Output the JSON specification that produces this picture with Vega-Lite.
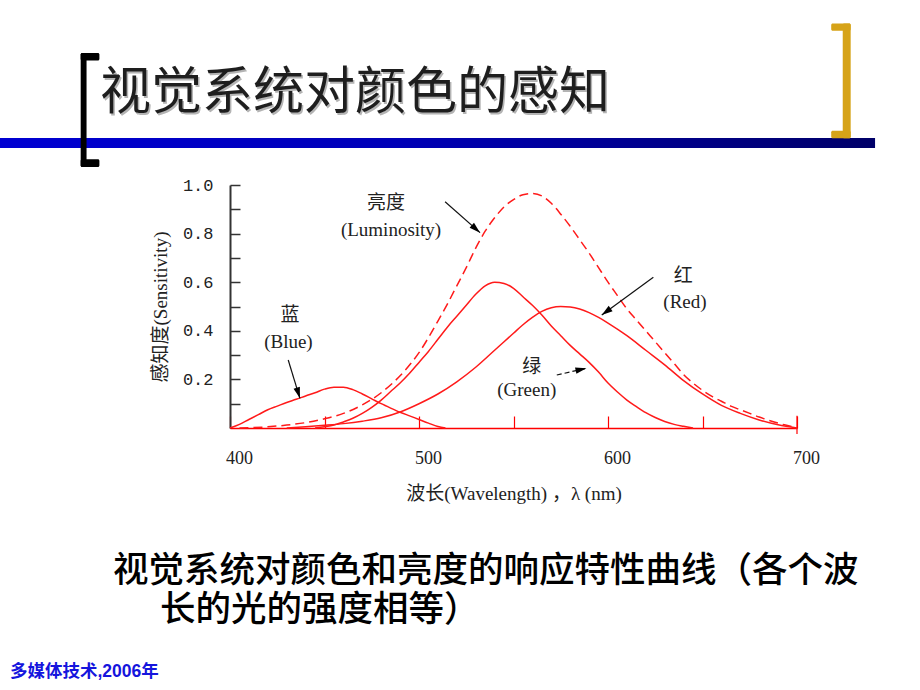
{
  "$schema": "https://vega.github.io/schema/vega-lite/v6.json",
  "width": 567,
  "height": 243,
  "autosize": {"type": "none"},
  "padding": {"left": 230, "top": 185, "right": 123, "bottom": 262},
  "background": "white",
  "config": {"view": {"stroke": null}},
  "datasets": {
    "curves": [
      {"s": "蓝", "x": 400, "y": 0}, {"s": "蓝", "x": 405, "y": 0.015}, {"s": "蓝", "x": 410, "y": 0.035}, {"s": "蓝", "x": 415, "y": 0.055},
      {"s": "蓝", "x": 420, "y": 0.075}, {"s": "蓝", "x": 425, "y": 0.09}, {"s": "蓝", "x": 430, "y": 0.105}, {"s": "蓝", "x": 435, "y": 0.118},
      {"s": "蓝", "x": 440, "y": 0.132}, {"s": "蓝", "x": 445, "y": 0.145}, {"s": "蓝", "x": 450, "y": 0.16}, {"s": "蓝", "x": 455, "y": 0.168},
      {"s": "蓝", "x": 460, "y": 0.168}, {"s": "蓝", "x": 465, "y": 0.158}, {"s": "蓝", "x": 470, "y": 0.14}, {"s": "蓝", "x": 475, "y": 0.12},
      {"s": "蓝", "x": 480, "y": 0.1}, {"s": "蓝", "x": 485, "y": 0.082}, {"s": "蓝", "x": 490, "y": 0.065}, {"s": "蓝", "x": 495, "y": 0.05},
      {"s": "蓝", "x": 500, "y": 0.035}, {"s": "蓝", "x": 505, "y": 0.02}, {"s": "蓝", "x": 510, "y": 0.006}, {"s": "蓝", "x": 514, "y": 0},
      {"s": "绿", "x": 445, "y": 0}, {"s": "绿", "x": 450, "y": 0.005}, {"s": "绿", "x": 455, "y": 0.012}, {"s": "绿", "x": 460, "y": 0.025},
      {"s": "绿", "x": 465, "y": 0.04}, {"s": "绿", "x": 470, "y": 0.06}, {"s": "绿", "x": 475, "y": 0.085}, {"s": "绿", "x": 480, "y": 0.115},
      {"s": "绿", "x": 485, "y": 0.15}, {"s": "绿", "x": 490, "y": 0.185}, {"s": "绿", "x": 495, "y": 0.225}, {"s": "绿", "x": 500, "y": 0.27},
      {"s": "绿", "x": 505, "y": 0.315}, {"s": "绿", "x": 510, "y": 0.365}, {"s": "绿", "x": 515, "y": 0.415}, {"s": "绿", "x": 520, "y": 0.46},
      {"s": "绿", "x": 525, "y": 0.505}, {"s": "绿", "x": 530, "y": 0.55}, {"s": "绿", "x": 535, "y": 0.585}, {"s": "绿", "x": 540, "y": 0.6},
      {"s": "绿", "x": 545, "y": 0.595}, {"s": "绿", "x": 550, "y": 0.575}, {"s": "绿", "x": 555, "y": 0.54}, {"s": "绿", "x": 560, "y": 0.505},
      {"s": "绿", "x": 565, "y": 0.465}, {"s": "绿", "x": 570, "y": 0.42}, {"s": "绿", "x": 575, "y": 0.38}, {"s": "绿", "x": 580, "y": 0.34},
      {"s": "绿", "x": 585, "y": 0.305}, {"s": "绿", "x": 590, "y": 0.27}, {"s": "绿", "x": 595, "y": 0.23}, {"s": "绿", "x": 600, "y": 0.185},
      {"s": "绿", "x": 605, "y": 0.148}, {"s": "绿", "x": 610, "y": 0.115}, {"s": "绿", "x": 615, "y": 0.088}, {"s": "绿", "x": 620, "y": 0.063},
      {"s": "绿", "x": 625, "y": 0.043}, {"s": "绿", "x": 630, "y": 0.027}, {"s": "绿", "x": 635, "y": 0.015}, {"s": "绿", "x": 640, "y": 0.007},
      {"s": "绿", "x": 645, "y": 0},
      {"s": "红", "x": 430, "y": 0}, {"s": "红", "x": 440, "y": 0.005}, {"s": "红", "x": 450, "y": 0.011}, {"s": "红", "x": 460, "y": 0.018},
      {"s": "红", "x": 470, "y": 0.028}, {"s": "红", "x": 480, "y": 0.042}, {"s": "红", "x": 490, "y": 0.066}, {"s": "红", "x": 500, "y": 0.1},
      {"s": "红", "x": 510, "y": 0.14}, {"s": "红", "x": 520, "y": 0.19}, {"s": "红", "x": 530, "y": 0.25}, {"s": "红", "x": 540, "y": 0.32},
      {"s": "红", "x": 545, "y": 0.355}, {"s": "红", "x": 550, "y": 0.39}, {"s": "红", "x": 555, "y": 0.425}, {"s": "红", "x": 560, "y": 0.455},
      {"s": "红", "x": 565, "y": 0.48}, {"s": "红", "x": 570, "y": 0.495}, {"s": "红", "x": 575, "y": 0.5}, {"s": "红", "x": 580, "y": 0.498},
      {"s": "红", "x": 585, "y": 0.49}, {"s": "红", "x": 590, "y": 0.475}, {"s": "红", "x": 595, "y": 0.455}, {"s": "红", "x": 600, "y": 0.432},
      {"s": "红", "x": 610, "y": 0.38}, {"s": "红", "x": 620, "y": 0.32}, {"s": "红", "x": 630, "y": 0.26}, {"s": "红", "x": 640, "y": 0.195},
      {"s": "红", "x": 650, "y": 0.14}, {"s": "红", "x": 660, "y": 0.093}, {"s": "红", "x": 670, "y": 0.06}, {"s": "红", "x": 680, "y": 0.033},
      {"s": "红", "x": 690, "y": 0.013}, {"s": "红", "x": 700, "y": 0},
      {"s": "亮度", "x": 405, "y": 0}, {"s": "亮度", "x": 420, "y": 0.005}, {"s": "亮度", "x": 430, "y": 0.012}, {"s": "亮度", "x": 440, "y": 0.022},
      {"s": "亮度", "x": 450, "y": 0.038}, {"s": "亮度", "x": 460, "y": 0.06}, {"s": "亮度", "x": 470, "y": 0.095}, {"s": "亮度", "x": 480, "y": 0.145},
      {"s": "亮度", "x": 490, "y": 0.215}, {"s": "亮度", "x": 500, "y": 0.31}, {"s": "亮度", "x": 510, "y": 0.44}, {"s": "亮度", "x": 515, "y": 0.51},
      {"s": "亮度", "x": 520, "y": 0.585}, {"s": "亮度", "x": 525, "y": 0.66}, {"s": "亮度", "x": 530, "y": 0.74}, {"s": "亮度", "x": 535, "y": 0.81},
      {"s": "亮度", "x": 540, "y": 0.865}, {"s": "亮度", "x": 545, "y": 0.91}, {"s": "亮度", "x": 550, "y": 0.94}, {"s": "亮度", "x": 555, "y": 0.96},
      {"s": "亮度", "x": 560, "y": 0.965}, {"s": "亮度", "x": 565, "y": 0.955}, {"s": "亮度", "x": 570, "y": 0.925}, {"s": "亮度", "x": 575, "y": 0.88},
      {"s": "亮度", "x": 580, "y": 0.83}, {"s": "亮度", "x": 585, "y": 0.775}, {"s": "亮度", "x": 590, "y": 0.72}, {"s": "亮度", "x": 595, "y": 0.66},
      {"s": "亮度", "x": 600, "y": 0.6}, {"s": "亮度", "x": 605, "y": 0.545}, {"s": "亮度", "x": 610, "y": 0.49}, {"s": "亮度", "x": 615, "y": 0.445},
      {"s": "亮度", "x": 620, "y": 0.4}, {"s": "亮度", "x": 625, "y": 0.355}, {"s": "亮度", "x": 630, "y": 0.31}, {"s": "亮度", "x": 635, "y": 0.265},
      {"s": "亮度", "x": 640, "y": 0.22}, {"s": "亮度", "x": 645, "y": 0.185}, {"s": "亮度", "x": 650, "y": 0.155}, {"s": "亮度", "x": 655, "y": 0.13},
      {"s": "亮度", "x": 660, "y": 0.11}, {"s": "亮度", "x": 665, "y": 0.09}, {"s": "亮度", "x": 670, "y": 0.075}, {"s": "亮度", "x": 675, "y": 0.06},
      {"s": "亮度", "x": 680, "y": 0.045}, {"s": "亮度", "x": 685, "y": 0.032}, {"s": "亮度", "x": 690, "y": 0.02}, {"s": "亮度", "x": 695, "y": 0.01},
      {"s": "亮度", "x": 700, "y": 0}
    ],
    "arrows": [
      {"a": "亮度", "x": 513.8, "y": 0.931, "x2": 532.3, "y2": 0.804},
      {"a": "蓝", "x": 430.8, "y": 0.28, "x2": 437, "y2": 0.122},
      {"a": "红", "x": 624, "y": 0.62, "x2": 596.7, "y2": 0.465},
      {"a": "绿", "x": 572.9, "y": 0.218, "x2": 588.6, "y2": 0.246}
    ],
    "heads": [
      {"a": "亮度", "x": 532.3, "y": 0.804},
      {"a": "蓝", "x": 437, "y": 0.122},
      {"a": "红", "x": 596.7, "y": 0.465},
      {"a": "绿", "x": 588.6, "y": 0.246}
    ],
    "endtick": [
      {"x": 700, "y": -0.025, "y2": 0.05}
    ],
    "labels": [
      {"g": "anno", "t": "亮度", "x": 482.5, "y": 0.926},
      {"g": "anno", "t": "(Luminosity)", "x": 485.2, "y": 0.815},
      {"g": "anno", "t": "蓝", "x": 431.7, "y": 0.465},
      {"g": "anno", "t": "(Blue)", "x": 430.9, "y": 0.355},
      {"g": "anno", "t": "红", "x": 639.8, "y": 0.626},
      {"g": "anno", "t": "(Red)", "x": 640.7, "y": 0.52},
      {"g": "anno", "t": "绿", "x": 559.6, "y": 0.252},
      {"g": "anno", "t": "(Green)", "x": 557, "y": 0.156},
      {"g": "title", "t": "视觉系统对颜色的感知", "x": 331.2, "y": 1.374},
      {"g": "caption", "t": "视觉系统对颜色和亮度的响应特性曲线（各个波", "x": 338.1, "y": -0.588},
      {"g": "caption", "t": "长的光的强度相等）", "x": 363, "y": -0.749},
      {"g": "footer", "t": "多媒体技术,2006年", "x": 283.6, "y": -1.004}
    ],
    "deco": [
      {"k": "bar", "x": 278.3, "x2": 741.3, "y": 1.193, "y2": 1.152},
      {"k": "black", "x": 321.0, "x2": 324.1, "y": 1.543, "y2": 1.074},
      {"k": "black", "x": 321.0, "x2": 330.9, "y": 1.543, "y2": 1.512},
      {"k": "black", "x": 321.0, "x2": 330.9, "y": 1.106, "y2": 1.074},
      {"k": "gold", "x": 724.2, "x2": 728.4, "y": 1.665, "y2": 1.192},
      {"k": "gold", "x": 718.1, "x2": 728.4, "y": 1.665, "y2": 1.635},
      {"k": "gold", "x": 718.1, "x2": 728.4, "y": 1.223, "y2": 1.192}
    ]
  },
  "encoding": {
    "x": {
      "field": "x", "type": "quantitative",
      "scale": {"domain": [400, 700], "nice": false, "zero": false},
      "axis": {
        "values": [400, 450, 500, 550, 600, 650, 700],
        "labelExpr": "datum.value % 100 === 0 ? datum.label : ''",
        "format": "d",
        "grid": false,
        "tickSize": -12, "tickColor": "#ff0000", "tickWidth": 1.2,
        "domainColor": "#ff0000", "domainWidth": 1.5,
        "labelFont": "Liberation Serif", "labelFontSize": 18, "labelColor": "#222222",
        "labelPadding": 33, "labelOffset": 9, "labelFlush": false, "labelOverlap": false,
        "title": "波长(Wavelength) ，λ (nm)",
        "titleFont": "Liberation Serif, Noto Sans CJK SC", "titleFontSize": 19, "titleFontWeight": "normal", "titleColor": "#222222",
        "titlePadding": 17
      }
    },
    "y": {
      "field": "y", "type": "quantitative",
      "scale": {"domain": [0, 1], "nice": false, "zero": false},
      "axis": {
        "values": [0.1, 0.2, 0.3, 0.4, 0.5, 0.6, 0.7, 0.8, 0.9, 1.0],
        "labelExpr": "round(datum.value * 10) % 2 === 0 ? format(datum.value, '.1f') : ''",
        "grid": false,
        "tickSize": -10, "tickColor": "#333333", "tickWidth": 1.5,
        "domainColor": "#333333", "domainWidth": 2,
        "labelFont": "Liberation Mono", "labelFontSize": 17, "labelColor": "#222222",
        "labelPadding": 27, "labelOverlap": false, "labelFlush": false,
        "title": "感知度(Sensitivity)",
        "titleFont": "Liberation Serif, Noto Sans CJK SC", "titleFontSize": 19, "titleFontWeight": "normal", "titleColor": "#222222",
        "titlePadding": 12
      }
    }
  },
  "layer": [
    {
      "data": {"name": "deco"},
      "transform": [{"filter": "datum.k === 'bar'"}],
      "mark": {"type": "rect", "fill": {"gradient": "linear", "x1": 0, "y1": 0, "x2": 1, "y2": 0, "stops": [{"offset": 0, "color": "#0000d2"}, {"offset": 0.45, "color": "#0000b8"}, {"offset": 1, "color": "#000068"}]}},
      "encoding": {"x2": {"field": "x2"}, "y2": {"field": "y2"}}
    },
    {
      "data": {"name": "deco"},
      "transform": [{"filter": "datum.k === 'black'"}],
      "mark": {"type": "rect", "color": "#000000", "cornerRadius": 1.5},
      "encoding": {"x2": {"field": "x2"}, "y2": {"field": "y2"}}
    },
    {
      "data": {"name": "deco"},
      "transform": [{"filter": "datum.k === 'gold'"}],
      "mark": {"type": "rect", "color": "#d6a318", "cornerRadius": 1.5},
      "encoding": {"x2": {"field": "x2"}, "y2": {"field": "y2"}}
    },
    {
      "data": {"name": "endtick"},
      "mark": {"type": "rule", "color": "#ff0000", "strokeWidth": 1.2},
      "encoding": {"y2": {"field": "y2"}}
    },
    {
      "data": {"name": "curves"},
      "transform": [{"filter": "datum.s !== '亮度'"}],
      "mark": {"type": "line", "color": "#ff1a1a", "strokeWidth": 1.5, "interpolate": "monotone"},
      "encoding": {"detail": {"field": "s", "type": "nominal"}}
    },
    {
      "data": {"name": "curves"},
      "transform": [{"filter": "datum.s === '亮度'"}],
      "mark": {"type": "line", "color": "#ff1a1a", "strokeWidth": 1.5, "strokeDash": [9, 5], "interpolate": "monotone"},
      "encoding": {}
    },
    {
      "data": {"name": "arrows"},
      "transform": [{"filter": "datum.a !== '绿'"}],
      "mark": {"type": "rule", "color": "#111111", "strokeWidth": 1.2},
      "encoding": {"x2": {"field": "x2"}, "y2": {"field": "y2"}}
    },
    {
      "data": {"name": "arrows"},
      "transform": [{"filter": "datum.a === '绿'"}],
      "mark": {"type": "rule", "color": "#111111", "strokeWidth": 1.2, "strokeDash": [5, 3]},
      "encoding": {"x2": {"field": "x2"}, "y2": {"field": "y2"}}
    },
    {
      "data": {"name": "heads"},
      "transform": [{"filter": "datum.a === '亮度'"}],
      "mark": {"type": "point", "shape": "M0,0L0.3,1L-0.3,1Z", "size": 484, "filled": true, "color": "#000000", "opacity": 1, "angle": 131.5}
    },
    {
      "data": {"name": "heads"},
      "transform": [{"filter": "datum.a === '蓝'"}],
      "mark": {"type": "point", "shape": "M0,0L0.3,1L-0.3,1Z", "size": 484, "filled": true, "color": "#000000", "opacity": 1, "angle": 163}
    },
    {
      "data": {"name": "heads"},
      "transform": [{"filter": "datum.a === '红'"}],
      "mark": {"type": "point", "shape": "M0,0L0.3,1L-0.3,1Z", "size": 484, "filled": true, "color": "#000000", "opacity": 1, "angle": 233.8}
    },
    {
      "data": {"name": "heads"},
      "transform": [{"filter": "datum.a === '绿'"}],
      "mark": {"type": "point", "shape": "M0,0L0.3,1L-0.3,1Z", "size": 484, "filled": true, "color": "#000000", "opacity": 1, "angle": 77.4}
    },
    {
      "data": {"name": "labels"},
      "transform": [{"filter": "datum.g === 'anno'"}],
      "mark": {"type": "text", "font": "Liberation Serif, Noto Sans CJK SC", "fontSize": 19, "color": "#222222", "align": "center", "baseline": "middle"},
      "encoding": {"text": {"field": "t"}}
    },
    {
      "data": {"name": "labels"},
      "transform": [{"filter": "datum.g === 'title'"}],
      "mark": {"type": "text", "font": "Noto Sans CJK SC", "fontSize": 51, "fontWeight": "normal", "color": "#b4b4b4", "align": "left", "baseline": "middle", "dx": 1.5, "dy": 1.5},
      "encoding": {"text": {"field": "t"}}
    },
    {
      "data": {"name": "labels"},
      "transform": [{"filter": "datum.g === 'title'"}],
      "mark": {"type": "text", "font": "Noto Sans CJK SC", "fontSize": 51, "fontWeight": "normal", "color": "#1e1e1e", "align": "left", "baseline": "middle"},
      "encoding": {"text": {"field": "t"}}
    },
    {
      "data": {"name": "labels"},
      "transform": [{"filter": "datum.g === 'caption'"}],
      "mark": {"type": "text", "font": "Noto Sans CJK SC", "fontSize": 35.5, "fontWeight": 500, "color": "#000000", "align": "left", "baseline": "middle"},
      "encoding": {"text": {"field": "t"}}
    },
    {
      "data": {"name": "labels"},
      "transform": [{"filter": "datum.g === 'footer'"}],
      "mark": {"type": "text", "font": "Liberation Sans, Noto Sans CJK SC", "fontSize": 17.5, "fontWeight": "bold", "color": "#1515dd", "align": "left", "baseline": "middle"},
      "encoding": {"text": {"field": "t"}}
    }
  ]
}
